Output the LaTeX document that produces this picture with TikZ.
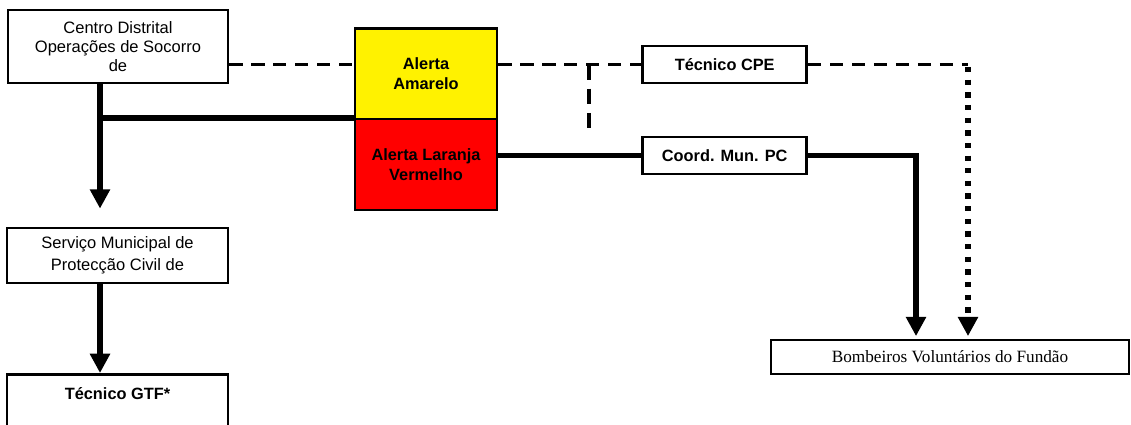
\documentclass[tikz,border=0pt]{standalone}
\usepackage{fontspec}
\setmainfont{Liberation Sans}
\newfontfamily\timesfont{Liberation Serif}
\usetikzlibrary{arrows.meta}

\begin{document}
\begin{tikzpicture}[x=0.02cm,y=-0.02cm,
  caixa/.style={draw, line width=1.6pt, fill=white, inner sep=0pt, align=center,
    font=\fontsize{9.4}{11}\selectfont},
  caixab/.style={caixa, font=\fontsize{9.3}{11.3}\selectfont\bfseries},
  grosso/.style={line width=3.4pt},
  tracejado/.style={line width=2.2pt, dash pattern=on 7.5pt off 5pt},
  pontilhado/.style={line width=3pt, dash pattern=on 3pt off 4.2pt},
  seta/.style={-{Triangle[width=11pt,length=11pt]}}]
\useasboundingbox (0,0) rectangle (1131,425);
\clip (0,0) rectangle (1131,425);

% caixas
\node[caixa, minimum width=4.4cm, minimum height=1.46cm] (cdos) at (118,46.5)
  {Centro Distrital\\Operações de Socorro\\de};
\node[caixab, fill=yellow, minimum width=2.84cm, minimum height=1.82cm] (amarelo) at (426,74)
  {Alerta\\Amarelo};
\node[caixab, fill=red, minimum width=2.84cm, minimum height=1.82cm] (vermelho) at (426,164.5)
  {Alerta Laranja\\Vermelho};
\node[caixab, minimum width=3.28cm, minimum height=0.74cm] (cpe) at (724.7,64.5) {Técnico CPE};
\node[caixab, minimum width=3.28cm, minimum height=0.74cm] (coord) at (724.7,155.5) {Coord. Mun. PC};
\node[caixa, font=\fontsize{9.4}{12.5}\selectfont, minimum width=4.42cm, minimum height=1.1cm] (smpc) at (117.5,255.5)
  {Serviço Municipal de\\Protecção Civil de};
\node[caixab, anchor=north, minimum width=4.42cm, text height=14pt, text depth=1.5cm] (gtf) at (117.5,373)
  {Técnico GTF*};
\node[caixa, line width=1pt, font=\timesfont\fontsize{9.8}{11}\selectfont, minimum width=7.16cm, minimum height=0.68cm] (bv) at (950,357)
  {Bombeiros Voluntários do Fundão};

% ligacoes
\draw[tracejado] (cdos.east |- cpe.west) -- (amarelo.west |- cpe.west);
\draw[tracejado] (amarelo.east |- cpe.west) -- (cpe.west);
\coordinate (ramo) at (589,64.5);
\draw[tracejado, dash pattern=on 8.8pt off 5pt] (ramo) -- ++(0,64);
\draw[grosso] ([xshift=-0.36cm]cdos.south) |- (vermelho.north west);
\draw[grosso,seta] ([xshift=-0.36cm]cdos.south) -- ([xshift=-0.35cm,yshift=0.36cm]smpc.north);
\draw[grosso,seta] ([xshift=-0.35cm]smpc.south) -- ([xshift=-0.35cm]gtf.north);
\draw[grosso] (vermelho.east |- coord.west) -- (coord.west);
\draw[grosso,seta] (coord.east) -| ([xshift=-0.68cm,yshift=0.06cm]bv.north);
\coordinate (setaB) at ([xshift=0.36cm,yshift=0.06cm]bv.north);
\draw[tracejado] (cpe.east) -- (cpe.east -| setaB);
\draw[pontilhado,seta] ([yshift=-0.05cm]cpe.east -| setaB) -- (setaB);

\end{tikzpicture}
\end{document}
